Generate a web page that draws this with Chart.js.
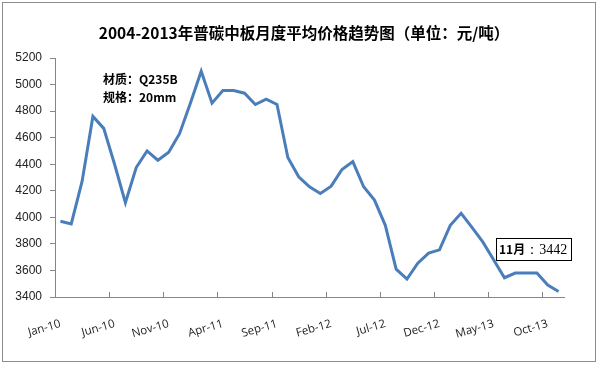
<!DOCTYPE html>
<html>
<head>
<meta charset="utf-8">
<script src="https://cdn.jsdelivr.net/npm/chart.js@4/dist/chart.umd.min.js"></script>
<style>
  body { margin: 0; background: #fff; }
  canvas { display: block; }
</style>
</head>
<body>
<canvas id="priceChart" width="598" height="365"></canvas>
<script>
// months Jan-10 .. Nov-13
const months = [
	'Jan-10','Feb-10','Mar-10','Apr-10','May-10','Jun-10','Jul-10','Aug-10','Sep-10','Oct-10','Nov-10','Dec-10',
	'Jan-11','Feb-11','Mar-11','Apr-11','May-11','Jun-11','Jul-11','Aug-11','Sep-11','Oct-11','Nov-11','Dec-11',
	'Jan-12','Feb-12','Mar-12','Apr-12','May-12','Jun-12','Jul-12','Aug-12','Sep-12','Oct-12','Nov-12','Dec-12',
	'Jan-13','Feb-13','Mar-13','Apr-13','May-13','Jun-13','Jul-13','Aug-13','Sep-13','Oct-13','Nov-13'
];
const prices = [
	3970, 3950, 4270, 4760, 4670, 4400, 4110, 4375, 4500, 4430, 4490, 4630,
	4860, 5100, 4860, 4955, 4955, 4935, 4850, 4890, 4850, 4450, 4305, 4230,
	4180, 4235, 4360, 4420, 4230, 4130, 3940, 3610, 3535, 3655, 3730, 3755,
	3940, 4030, 3925, 3815, 3680, 3545, 3580, 3580, 3580, 3490, 3442
];
const yTicks = [3400, 3600, 3800, 4000, 4200, 4400, 4600, 4800, 5000, 5200];

const titleText = '2004-2013年普碳中板月度平均价格趋势图（单位：元/吨）';
const noteLines = ['材质：Q235B', '规格：20mm'];
const lastLabel = '11月';
const lastValue = '：3442';

const cjk = '"Noto Sans CJK SC", sans-serif';

// title, notes, callout box, frame and inward x ticks
const decorPlugin = {
	id: 'decor',
	afterDraw(chart) {
		const c = chart.ctx;
		const xs = chart.scales.x;
		c.save();
		c.strokeStyle = '#868686';
		c.lineWidth = 1;
		c.beginPath();
		const n = months.length;
		const step = (xs.right - xs.left) / n;
		for (let i = 5; i <= n; i += 5) {
			const px = Math.round(xs.left + i * step) + 0.5;
			c.moveTo(px, xs.top);
			c.lineTo(px, xs.top - 5);
		}
		c.stroke();

		c.strokeStyle = '#8c8c8c';
		c.strokeRect(2.5, 2.5, 593, 359);

		c.fillStyle = '#000';
		c.textAlign = 'center';
		c.textBaseline = 'middle';
		c.font = 'bold 15.5px ' + cjk;
		c.fillText(titleText, 304, 33);

		c.textAlign = 'left';
		c.font = 'bold 12px ' + cjk;
		c.fillText(noteLines[0], 103, 79);
		c.fillText(noteLines[1], 103, 97);

		// callout
		c.fillStyle = '#fff';
		c.fillRect(496, 238, 75, 22);
		c.strokeStyle = '#000';
		c.strokeRect(496.5, 238.5, 75, 22);
		c.fillStyle = '#000';
		c.font = 'bold 12px ' + cjk;
		c.fillText(lastLabel, 499, 249.5);
		const w = c.measureText(lastLabel).width;
		c.font = '14px "Liberation Serif", serif';
		c.fillText(lastValue, 499 + w, 250);
		c.restore();
	}
};

const ctx = document.getElementById('priceChart').getContext('2d');
new Chart(ctx, {
	type: 'line',
	data: {
		labels: months,
		datasets: [{
			data: prices,
			borderColor: '#4a7ebb',
			borderWidth: 3,
			pointRadius: 0,
			tension: 0,
			fill: false
		}]
	},
	options: {
		responsive: false,
		maintainAspectRatio: false,
		animation: { duration: 0 },
		layout: { padding: { top: 58, right: 34, left: 0, bottom: 0 } },
		plugins: {
			legend: { display: false },
			title: { display: false },
			tooltip: { enabled: false }
		},
		scales: {
			x: {
				offset: true,
				afterFit(scale) { scale.height = 68; },
				border: { color: '#868686', width: 1 },
				grid: { display: false },
				ticks: {
					autoSkip: false,
					maxRotation: 16,
					minRotation: 16,
					padding: 12,
					color: '#222',
					font: { family: '"Open Sans", sans-serif', size: 11.5 },
					callback: function(v, i) { return i % 5 === 0 ? months[i] : ''; }
				}
			},
			y: {
				min: 3400,
				max: 5200,
				afterFit(scale) { scale.width = 55; },
				afterBuildTicks(scale) { scale.ticks = yTicks.map(v => ({ value: v })); },
				border: { color: '#868686', width: 1 },
				grid: { drawOnChartArea: false, tickLength: 5, color: '#868686' },
				ticks: {
					padding: 8,
					color: '#222',
					font: { family: '"Liberation Sans", sans-serif', size: 12 },
					callback: (v) => String(v)
				}
			}
		}
	},
	plugins: [decorPlugin]
});
</script>
</body>
</html>
